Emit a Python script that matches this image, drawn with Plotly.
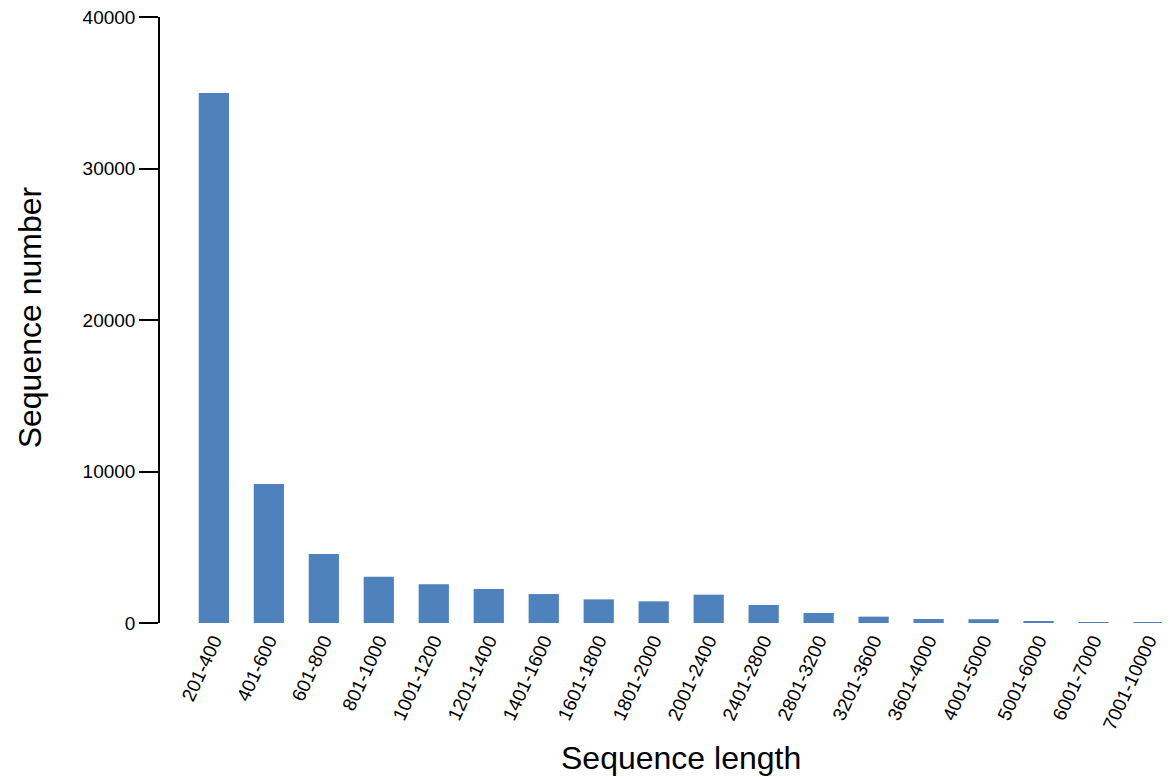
import plotly.graph_objects as go

categories = ["201-400", "401-600", "601-800", "801-1000", "1001-1200", "1201-1400",
              "1401-1600", "1601-1800", "1801-2000", "2001-2400", "2401-2800",
              "2801-3200", "3201-3600", "3601-4000", "4001-5000", "5001-6000",
              "6001-7000", "7001-10000"]
counts = [34980, 9170, 4550, 3060, 2550, 2240, 1910, 1560, 1430, 1870, 1190,
          660, 420, 265, 250, 110, 65, 60]
y_ticks = [0, 10000, 20000, 30000, 40000]

fig = go.Figure(go.Bar(
    x=categories, y=counts,
    marker=dict(color="#4F81BD", line=dict(width=0)),
))

font_family = "Liberation Sans, Arial, sans-serif"

# The page body has an 8px margin; the figure is sized to compensate.
fig.update_layout(
    width=1162, height=769,
    margin=dict(l=152, r=5, t=9, b=154),
    paper_bgcolor="white", plot_bgcolor="white",
    bargap=0.45,
    showlegend=False,
    font=dict(family=font_family, color="black"),
    xaxis=dict(
        range=[-0.98, 17.3], showline=False, showgrid=False, zeroline=False,
        ticks="", tickangle=-65, tickfont=dict(size=19, family=font_family),
        ticklabelstandoff=2, automargin=False, ticklabeloverflow="allow",
    ),
    yaxis=dict(
        range=[0, 40000], tickvals=y_ticks, ticktext=[str(v) for v in y_ticks],
        showline=True, linecolor="black", linewidth=1.5, showgrid=False, zeroline=False,
        ticks="outside", ticklen=19, tickwidth=1.5, tickcolor="black",
        tickfont=dict(size=19, family=font_family), automargin=False,
        ticklabeloverflow="allow",
    ),
    annotations=[
        dict(text="Sequence length", xref="paper", yref="paper", x=0.518, y=-0.223,
             showarrow=False, font=dict(size=32, family=font_family),
             xanchor="center", yanchor="middle"),
        dict(text="Sequence number", xref="paper", yref="paper", x=-0.129, y=0.505,
             showarrow=False, font=dict(size=32, family=font_family), textangle=-90,
             xanchor="center", yanchor="middle"),
    ],
)

fig.write_html("out.html")
